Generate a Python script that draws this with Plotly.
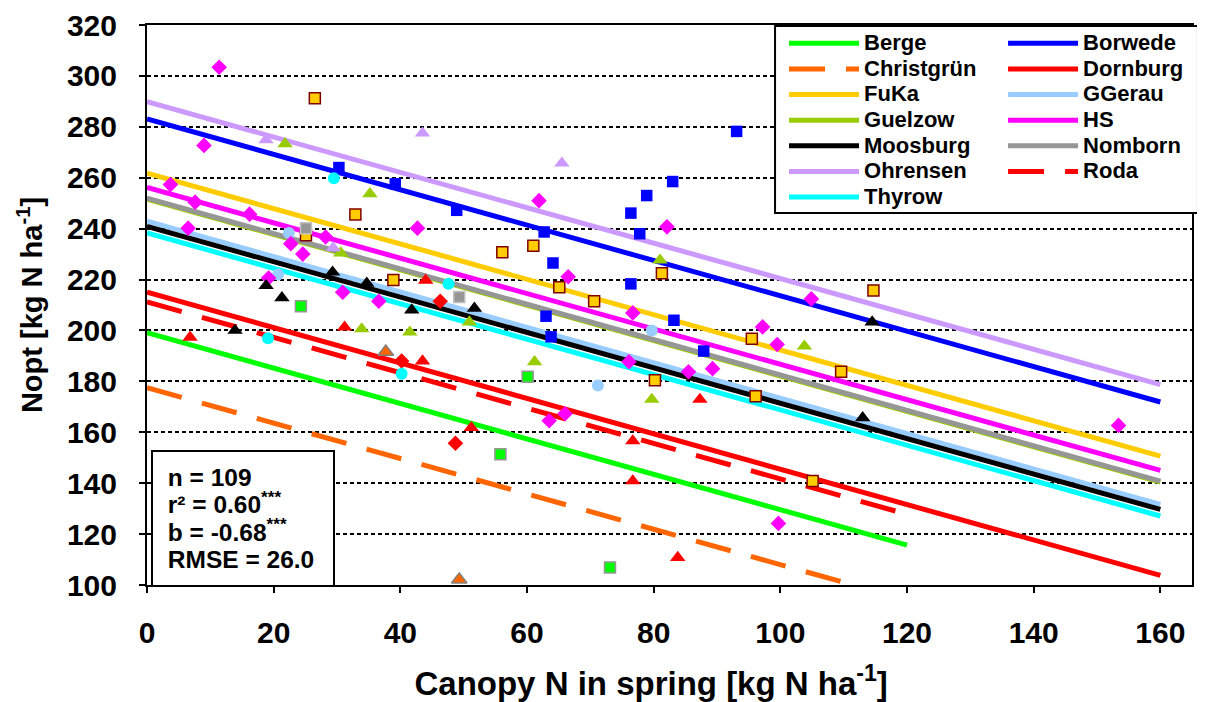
import plotly.graph_objects as go

# ---------------- data ----------------
sites = ["Berge", "Borwede", "Christgrün", "Dornburg", "FuKa", "GGerau", "Guelzow",
         "HS", "Moosburg", "Nomborn", "Ohrensen", "Roda", "Thyrow"]
# regression lines: Nopt = intercept + slope * canopy N
intercepts = [199.1, 283.1, 177.5, 215.0, 261.8, 242.9, 251.6,
              256.2, 240.9, 252.0, 289.9, 211.2, 238.3]
slope = -0.695
line_xend = [120, 160, 110, 160, 160, 160, 160, 160, 160, 160, 160, 120, 160]

berge_x = [24.3, 60.1, 55.8, 73.1]
berge_y = [209.5, 181.8, 151.4, 106.9]
borwede_x = [30.3, 39.2, 48.9, 62.7, 64.1, 63.0, 63.8, 76.4, 78.9, 83.0, 77.8, 76.4, 83.2, 87.9, 93.1]
borwede_y = [264.0, 257.6, 247.2, 238.7, 226.5, 205.6, 197.5, 246.1, 253.0, 258.5, 238.0, 218.3, 204.0, 191.9, 278.2]
christgruen_x = [37.7, 49.3]
christgruen_y = [191.6, 102.1]
dornburg_x = [6.8, 31.2, 44.0, 43.5, 51.2, 76.7, 76.7, 83.8, 87.3]
dornburg_y = [197.3, 201.3, 219.7, 188.0, 161.8, 156.6, 140.9, 110.8, 172.9]
fuka_x = [26.5, 32.9, 25.1, 38.9, 56.1, 61.0, 65.1, 70.6, 81.3, 80.2, 95.5, 96.1, 109.6, 114.7, 105.1]
fuka_y = [291.2, 245.6, 237.4, 219.8, 230.7, 233.3, 217.0, 211.5, 222.5, 180.4, 196.7, 174.2, 183.8, 215.7, 140.9]
ggerau_x = [22.4, 20.7, 79.7, 71.2]
ggerau_y = [238.3, 222.0, 200.0, 178.4]
guelzow_x = [21.8, 35.2, 30.6, 33.9, 41.5, 50.9, 61.2, 81.0, 79.7, 103.8]
guelzow_y = [273.3, 253.7, 230.4, 200.6, 199.3, 203.3, 187.7, 227.6, 172.9, 193.8]
hs_x = [11.4, 9.0, 3.7, 7.6, 16.2, 6.5, 22.7, 28.2, 24.6, 42.7, 19.2, 30.9, 36.6, 61.9,
        82.1, 66.5, 76.7, 76.1, 85.5, 89.3, 66.0, 63.5, 104.9, 97.2, 99.5, 153.4, 99.7]
hs_y = [303.4, 272.7, 257.3, 250.4, 245.7, 240.2, 234.1, 236.7, 230.0, 240.2, 220.6, 215.0, 211.5, 251.0,
        240.7, 221.1, 206.9, 187.7, 183.8, 185.0, 167.3, 164.5, 212.4, 201.4, 194.5, 162.7, 124.2]
moosburg_x = [18.8, 21.3, 13.9, 29.3, 34.7, 41.8, 51.7, 114.5, 113.0]
moosburg_y = [217.6, 212.8, 200.0, 222.9, 218.5, 208.0, 208.7, 203.3, 165.7]
nomborn_x = [25.1, 49.3]
nomborn_y = [240.2, 213.1]
ohrensen_x = [18.8, 43.5, 65.5, 29.4]
ohrensen_y = [274.9, 277.5, 265.7, 232.4]
roda_x = [46.3, 40.2, 48.7]
roda_y = [211.5, 188.0, 155.7]
thyrow_x = [29.5, 47.6, 19.1, 40.2]
thyrow_y = [259.8, 218.3, 196.9, 183.0]

points_x = [berge_x, borwede_x, christgruen_x, dornburg_x, fuka_x, ggerau_x, guelzow_x,
            hs_x, moosburg_x, nomborn_x, ohrensen_x, roda_x, thyrow_x]
points_y = [berge_y, borwede_y, christgruen_y, dornburg_y, fuka_y, ggerau_y, guelzow_y,
            hs_y, moosburg_y, nomborn_y, ohrensen_y, roda_y, thyrow_y]

stats_text = ["n = 109", "r² = 0.60<sup>***</sup>", "b = -0.68<sup>***</sup>", "RMSE = 26.0"]
x_title = "Canopy N in spring [kg N ha<sup>-1</sup>]"
y_title = "Nopt [kg N ha<sup>-1</sup>]"

# ---------------- styles ----------------
line_colors = ["#00FF00", "#0000FF", "#FF6600", "#FF0000", "#FFCC00", "#99CCFF", "#99CC00",
               "#FF00FF", "#000000", "#969696", "#CC99FF", "#FF0000", "#00FFFF"]
line_dash = ["solid", "solid", "36px,21px", "solid", "solid", "solid", "solid",
             "solid", "solid", "solid", "solid", "36px,21px", "solid"]
m_symbol = ["square", "square", "triangle-up", "triangle-up", "square", "circle", "triangle-up",
            "diamond", "triangle-up", "square", "triangle-up", "diamond", "circle"]
m_color = ["#00FF00", "#0000FF", "#FF6600", "#FF0000", "#FFCC00", "#99CCFF", "#99CC00",
           "#FF00FF", "#000000", "#969696", "#CC99FF", "#FF0000", "#00FFFF"]
m_line = ["#969696", "#0000FF", "#808080", "#FF0000", "#800000", "#99CCFF", "#99CC00",
          "#FF00FF", "#000000", "#C0C0C0", "#CC99FF", "#FF0000", "#00FFFF"]
m_linew = [1.5, 0, 1.5, 0, 1.5, 0, 0, 0, 0, 1.5, 0, 0, 0]
m_size = [11, 11.5, 13.5, 13.5, 11, 12, 13.5, 12, 13.5, 11, 13.5, 12, 12]

FONT = "Liberation Sans, Arial, sans-serif"
NB = "\u00a0"

fig = go.Figure()

for i, s in enumerate(sites):
    xe = line_xend[i]
    fig.add_trace(go.Scatter(
        x=[0, xe], y=[intercepts[i], intercepts[i] + slope * xe],
        mode="lines", name='<span style="font-size:22px">' + s + "</span>",
        line=dict(color=line_colors[i], width=5, dash=line_dash[i]),
        legend="legend" if i % 2 == 0 else "legend2",
        hoverinfo="skip"))

for i, s in enumerate(sites):
    fig.add_trace(go.Scatter(
        x=points_x[i], y=points_y[i], mode="markers", name=s, showlegend=False,
        marker=dict(symbol=m_symbol[i], color=m_color[i], size=m_size[i],
                    line=dict(color=m_line[i], width=m_linew[i]))))

legend_common = dict(bgcolor="rgba(0,0,0,0)", borderwidth=0, itemwidth=70,
                     tracegroupgap=0, yanchor="top", xanchor="left",
                     font=dict(family=FONT, size=17.4, color="black", weight="bold"))

stats_html = "<br>".join(NB + t for t in stats_text)

# the page is shown with an 8 px body offset, margins compensate for it
fig.update_layout(
    width=1205, height=702,
    margin=dict(l=139, r=21, t=17, b=125, autoexpand=False),
    paper_bgcolor="white", plot_bgcolor="white",
    font=dict(family=FONT, color="black"),
    legend=dict(x=0.6096, y=0.999, **legend_common),
    legend2=dict(x=0.8192, y=0.999, **legend_common),
    xaxis=dict(range=[0, 165], dtick=20, tick0=0, showgrid=False, zeroline=False,
               automargin=False,
               showline=True, linecolor="black", linewidth=2, mirror=True,
               ticks="outside", ticklen=6, tickwidth=2, tickcolor="black",
               ticklabelstandoff=14,
               tickfont=dict(family=FONT, size=30, color="black", weight="bold"),
               title=dict(text="<span>" + x_title + NB * 4 + "</span>", standoff=24,
                          font=dict(family=FONT, size=33, color="black", weight="bold"))),
    yaxis=dict(range=[100, 320], dtick=20, tick0=100, showgrid=True, gridcolor="black",
               gridwidth=2, griddash="4px,3px", zeroline=False,
               automargin=False,
               showline=True, linecolor="black", linewidth=2, mirror=True,
               ticks="outside", ticklen=6, tickwidth=2, tickcolor="black",
               ticklabelstandoff=16,
               tickfont=dict(family=FONT, size=30, color="black", weight="bold"),
               title=dict(text=y_title, standoff=16,
                          font=dict(family=FONT, size=29, color="black", weight="bold"))),
    shapes=[dict(type="rect", xref="paper", yref="paper", x0=0.601, x1=1.0057,
                 y0=0.6643, y1=0.998, line=dict(color="black", width=2),
                 fillcolor="white", layer="above")],
    annotations=[dict(xref="paper", yref="paper", x=0.004, y=-0.004,
                      xanchor="left", yanchor="bottom", align="left", valign="middle",
                      text='<span style="font-size:24.5px">' + stats_html + "</span>",
                      showarrow=False, width=164, height=117, borderpad=8,
                      bordercolor="black", borderwidth=2, bgcolor="white",
                      font=dict(family=FONT, size=21, color="black", weight="bold"))],
)

fig.write_html("out.html")
